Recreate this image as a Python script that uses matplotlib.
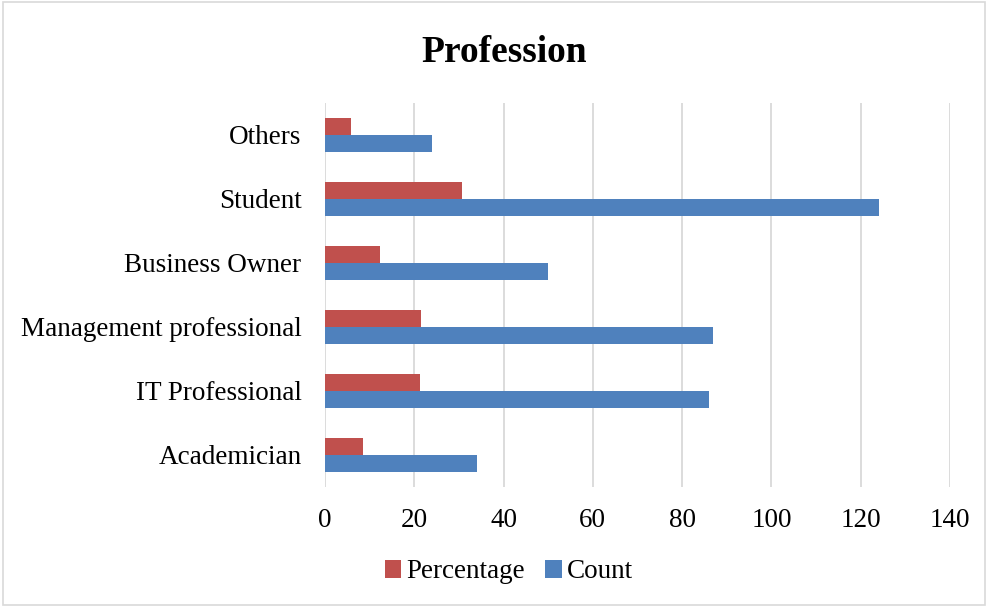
import matplotlib.pyplot as plt
import numpy as np

categories = ["Academician", "IT Professional", "Management professional",
              "Business Owner", "Student", "Others"]
count = [34, 86, 87, 50, 124, 24]
percentage = [8.4, 21.2, 21.5, 12.3, 30.6, 5.9]

plt.rcParams['font.family'] = ['Liberation Serif', 'DejaVu Serif']

fig = plt.figure(figsize=(9.88, 6.07), dpi=100)
ax = fig.add_axes([325/988, 1-487/607, 625/988, 384/607])

y = np.arange(len(categories))
h = 0.265
ax.barh(y - h/2, count, height=h, color="#4F81BD", label="Count")
ax.barh(y + h/2, percentage, height=h, color="#C0504D", label="Percentage")

ax.set_xlim(0, 140)
ax.set_ylim(-0.5, len(categories) - 0.5)
ax.set_xticks(range(0, 141, 20))
ax.set_yticks(y)
ax.set_yticklabels(categories)
ax.tick_params(axis='both', length=0, labelsize=19.5, colors="black")
ax.tick_params(axis='x', pad=15)
ax.tick_params(axis='y', pad=17)
ax.grid(axis='x', color="#d9d9d9", linewidth=1.3)
ax.set_axisbelow(True)
for s in ax.spines.values():
    s.set_visible(False)

fig.text(0.51, 1-52/607, "Profession", ha='center', va='center',
         fontsize=27, fontweight='bold')

handles, labels = ax.get_legend_handles_labels()
fig.legend(handles[::-1], labels[::-1], loc='center', bbox_to_anchor=(509/988, 1-572/607),
           ncol=2, frameon=False, fontsize=19.5, handlelength=0.6, handleheight=0.6,
           handletextpad=0.2, columnspacing=0.75)

fig.patches.append(plt.Rectangle((0.003, 0.003), 0.994, 0.994, transform=fig.transFigure,
                                 fill=False, edgecolor="#d9d9d9", linewidth=1.2))

fig.savefig("out.png", dpi=100)
